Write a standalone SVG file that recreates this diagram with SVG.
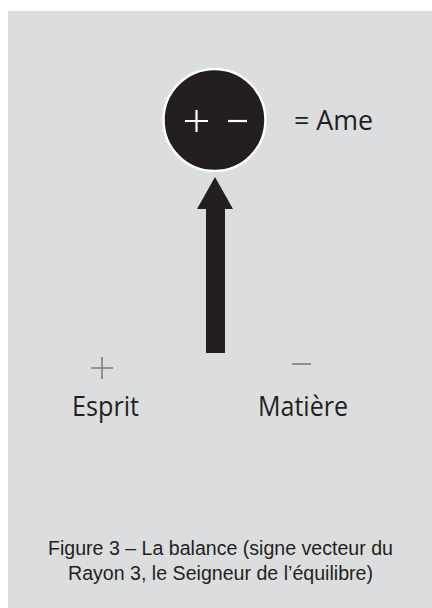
<svg xmlns="http://www.w3.org/2000/svg" width="432" height="608" viewBox="0 0 432 608">
<style>
.lbl{font-family:"Open Sans","Noto Sans",sans-serif;font-size:26.5px;fill:#231f20}
.cap{font-family:"Liberation Sans",Arial,sans-serif;font-size:20.5px;fill:#231f20}
.wsign{stroke:#fff;stroke-width:2.2;fill:none}
.gsign{stroke:#7d7d7d;stroke-width:1.6;fill:none}
</style>
<rect x="0" y="0" width="432" height="608" fill="#fff"/>
<rect x="8" y="11" width="424" height="597" fill="#dcdddf"/>
<g id="ame">
<circle cx="214.5" cy="120" r="51" fill="#231f20" stroke="#fff" stroke-width="2.5"/>
<path class="wsign" d="M185 121H208M196.5 110V132"/>
<path class="wsign" d="M228 121H247"/>
<text class="lbl" x="294" y="130" textLength="79" lengthAdjust="spacingAndGlyphs">= Ame</text>
</g>
<g id="connectors">
<polygon points="215,177 233,209 225,209 225,353 206,353 206,209 197,209" fill="#231f20"/>
</g>
<g id="esprit">
<path class="gsign" d="M91 368H113M102 357V379"/>
<text class="lbl" x="72" y="416" textLength="67" lengthAdjust="spacingAndGlyphs">Esprit</text>
</g>
<g id="matiere">
<path class="gsign" d="M292 364H311"/>
<text class="lbl" x="258" y="416" textLength="90" lengthAdjust="spacingAndGlyphs">Matière</text>
</g>
<g id="caption">
<text class="cap" x="48" y="555" textLength="345" lengthAdjust="spacingAndGlyphs">Figure 3 – La balance (signe vecteur du</text>
<text class="cap" x="68" y="580" textLength="305" lengthAdjust="spacingAndGlyphs">Rayon 3, le Seigneur de l’équilibre)</text>
</g>
</svg>
